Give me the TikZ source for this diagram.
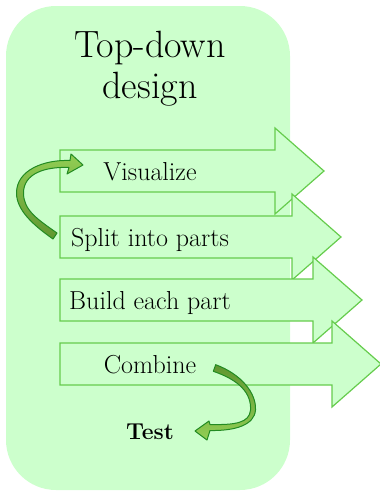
\documentclass[tikz,border=0pt]{standalone}
\usepackage{amsmath, amssymb}

\definecolor{bgreen}{RGB}{204,255,204}
\definecolor{lgreen}{RGB}{102,204,77}
\definecolor{dgreen}{RGB}{34,139,34}
\definecolor{cdark}{RGB}{96,150,48}
\definecolor{clight}{RGB}{146,206,84}

\begin{document}
\begin{tikzpicture}[x=1pt,y=-1pt,
		blockarrow/.style={draw=lgreen,fill=bgreen,line width=1.2pt},
		steptext/.style={anchor=base,inner sep=0pt,font=\fontsize{26}{30}\selectfont},
		curvearrow/.style={draw=dgreen,line width=1pt,line join=round}]
		\useasboundingbox (0,0) rectangle (380,496);
		\fill[bgreen,rounded corners=50pt] (6,6) rectangle (290,490);
		\node[align=center,font=\fontsize{38}{41}\selectfont] (title) at (150,69) {Top-down\\design};
		% the four steps
		\foreach \yc/\e/\name/\txt in {171/275/vis/Visualize, 237/292/split/Split into parts, 300/313/build/Build each part, 364/332/comb/Combine}{
			\draw[blockarrow] (60,\yc-21) -- (\e,\yc-21) -- (\e,\yc-43) -- (\e+49,\yc) -- (\e,\yc+43) -- (\e,\yc+21) -- (60,\yc+21) -- cycle;
			\node[steptext] (\name) at (150,\yc+9) {\txt};
		}
		\node[steptext,font=\fontsize{23}{28}\selectfont\bfseries] (test) at (150,439) {Test};
		% split -> visualize
		\draw[curvearrow,top color=clight,bottom color=cdark]
			(53,239) .. controls (33,225) and (16.5,210) .. (16.5,193)
			.. controls (16.5,170) and (44,159.5) .. (70,160.5)
			-- (71,154) -- (83,165) -- (67,174) -- (69,167.5)
			.. controls (44,166.5) and (23.5,174) .. (23.5,193)
			.. controls (23.5,210) and (37,219) .. (57,233) -- cycle;
		% combine -> test
		\draw[curvearrow,top color=cdark,bottom color=clight]
			(215.7,364.7) .. controls (241,374) and (256.5,393) .. (255.5,410)
			.. controls (254.5,425) and (235,431) .. (210,430.5)
			-- (207,440) -- (195,431) -- (209,421) -- (210,424.5)
			.. controls (235,425) and (249.5,423) .. (250.5,410)
			.. controls (251.5,393) and (239,380) .. (213.3,371.3) -- cycle;
\end{tikzpicture}
\end{document}
